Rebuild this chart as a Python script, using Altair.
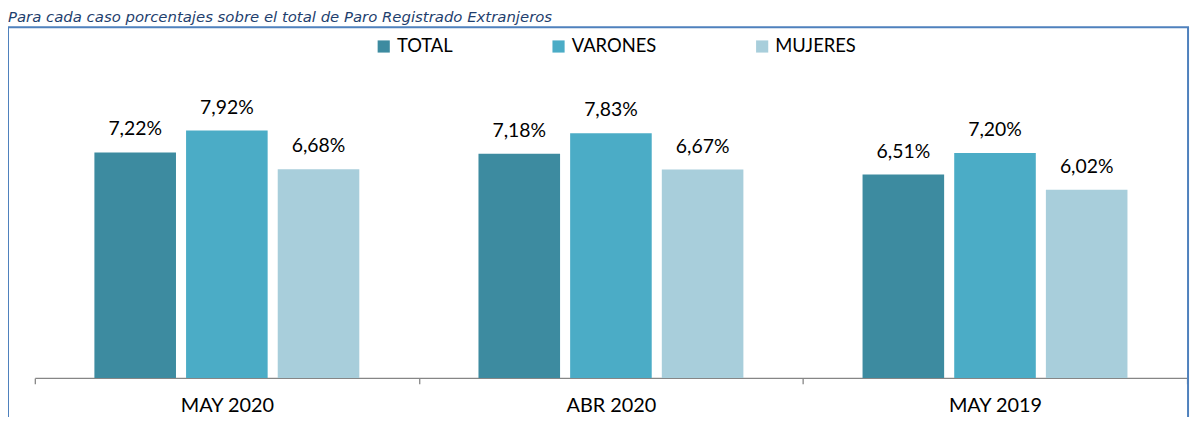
import altair as alt
import pandas as pd

title_text = "Para cada caso porcentajes sobre el total de Paro Registrado Extranjeros"
categories = ["MAY 2020", "ABR 2020", "MAY 2019"]
series = ["TOTAL", "VARONES", "MUJERES"]
total = [7.22, 7.18, 6.51]
varones = [7.92, 7.83, 7.20]
mujeres = [6.68, 6.67, 6.02]
colors = ["#3D8BA0", "#4BACC6", "#A8CEDB"]

rows = []
for i, c in enumerate(categories):
    for s, vals in zip(series, [total, varones, mujeres]):
        v = vals[i]
        rows.append({"cat": c, "series": s, "value": v,
                     "label": f"{v:.2f}".replace(".", ",") + "%"})
df = pd.DataFrame(rows)

FONT = "Lato"

x_enc = alt.X("cat:N", sort=categories,
              scale=alt.Scale(paddingInner=0, paddingOuter=0),
              axis=alt.Axis(title=None, labelAngle=0, tickBand="extent",
                            domainColor="#868686", tickColor="#868686",
                            domainWidth=1.3, tickWidth=1.3,
                            tickSize=6, labelFontSize=20, labelFont=FONT,
                            labelColor="#000000", labelPadding=12))
xo_enc = alt.XOffset("series:N", sort=series,
                     scale=alt.Scale(paddingInner=0.11, paddingOuter=0.65))
y_enc = alt.Y("value:Q", scale=alt.Scale(domain=[0, 9], nice=False), axis=None)

base = alt.Chart(df)

bars = base.mark_bar().encode(
    x=x_enc, xOffset=xo_enc, y=y_enc,
    color=alt.Color("series:N", sort=series,
                    scale=alt.Scale(domain=series, range=colors),
                    legend=alt.Legend(title=None, orient="none", direction="horizontal",
                                      legendX=342, legendY=-60, padding=0,
                                      symbolType="square", symbolSize=150,
                                      symbolStrokeWidth=0, symbolOpacity=1,
                                      labelFontSize=18.5, labelFont=FONT,
                                      labelColor="#000000", labelOffset=4,
                                      columnPadding=97)),
)

labels = base.mark_text(dy=-17, baseline="alphabetic", fontSize=19.5, font=FONT,
                        color="#000000").encode(
    x=x_enc, xOffset=xo_enc, y=y_enc, text="label:N")

frame = alt.Chart(pd.DataFrame({"k": [0]})).mark_rect(
    fill=None, stroke="#4F81BD", strokeWidth=2).encode(
    x=alt.value(-27), x2=alt.value(1161), y=alt.value(-70), y2=alt.value(400))

title = alt.Chart(pd.DataFrame({"t": [title_text]})).mark_text(
    align="left", baseline="alphabetic", font="DejaVu Sans", fontStyle="italic",
    fontSize=15, color="#1F3F6E").encode(
    x=alt.value(-27), y=alt.value(-75), text="t:N")

chart = alt.layer(frame, bars, labels, title).properties(
    width=1160, height=283,
    autosize=alt.AutoSizeParams(type="none"),
    padding={"left": 27, "top": 88, "right": 7, "bottom": 38},
).configure_view(stroke=None)

chart.save("out.html", embed_options={"renderer": "svg", "actions": False})
